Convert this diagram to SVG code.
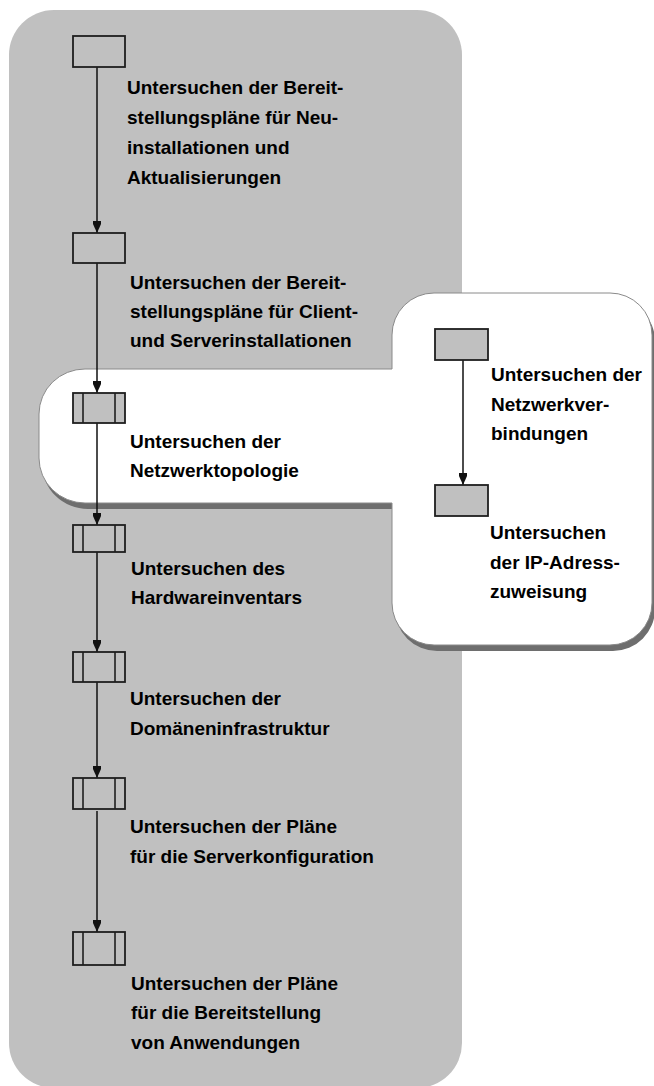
<svg xmlns="http://www.w3.org/2000/svg" width="654" height="1086" viewBox="0 0 654 1086">
<style>
.bg{fill:#c0c0c0}
.box{fill:#c0c0c0;stroke:#1e1e1e;stroke-width:1.8}
.bar{stroke:#1e1e1e;stroke-width:1.6}
.conn{stroke:#111;stroke-width:1.5;fill:none;marker-end:url(#arr)}
text{font-family:"Liberation Sans",Arial,sans-serif;font-weight:bold;font-size:19px;fill:#000}
</style>
<defs>
<marker id="arr" markerWidth="12" markerHeight="10" refX="12" refY="5" orient="auto" markerUnits="userSpaceOnUse" viewBox="0 0 12 10">
<path d="M0 1 H3 L12 5 L3 9 H0 Z" fill="#111"/>
</marker>
<path id="callout" d="M 85 369 L 392 369 L 392 335 A 42 42 0 0 1 434 293 L 610 293 A 42 42 0 0 1 652 335 L 652 603 A 42 42 0 0 1 610 645 L 434 645 A 42 42 0 0 1 392 603 L 392 503 L 85 503 A 46 45 0 0 1 39 458 L 39 414 A 46 45 0 0 1 85 369 Z"/>
</defs>
<rect class="bg" x="9" y="10" width="453" height="1078" rx="45" ry="45"/>
<use href="#callout" transform="translate(3,6)" fill="#6e6e6e"/>
<use href="#callout" fill="#ffffff" stroke="#8a8a8a" stroke-width="1"/>
<g id="connectors">
<line class="conn" x1="97" y1="67" x2="97" y2="233"/>
<line class="conn" x1="97" y1="263" x2="97" y2="393"/>
<line class="conn" x1="97" y1="423" x2="97" y2="525"/>
<line class="conn" x1="97" y1="552" x2="97" y2="652"/>
<line class="conn" x1="97" y1="682" x2="97" y2="778"/>
<line class="conn" x1="97" y1="811" x2="97" y2="932"/>
<line class="conn" x1="463" y1="360" x2="463" y2="485"/>
</g>
<g id="n1">
<rect class="box" x="73" y="36" width="52" height="31"/>
<text x="127" y="94">Untersuchen der Bereit-</text>
<text x="127" y="124">stellungspläne für Neu-</text>
<text x="127" y="154">installationen und</text>
<text x="127" y="184">Aktualisierungen</text>
</g>
<g id="n2">
<rect class="box" x="73" y="233" width="52" height="30"/>
<text x="130" y="289">Untersuchen der Bereit-</text>
<text x="130" y="318">stellungspläne für Client-</text>
<text x="130" y="347">und Serverinstallationen</text>
</g>
<g id="n3">
<rect class="box" x="73" y="393" width="52" height="30"/>
<line class="bar" x1="83" y1="393" x2="83" y2="423"/>
<line class="bar" x1="115" y1="393" x2="115" y2="423"/>
<text x="130" y="448">Untersuchen der</text>
<text x="130" y="477">Netzwerktopologie</text>
</g>
<g id="n4">
<rect class="box" x="73" y="525" width="52" height="27"/>
<line class="bar" x1="83" y1="525" x2="83" y2="552"/>
<line class="bar" x1="115" y1="525" x2="115" y2="552"/>
<text x="131" y="575">Untersuchen des</text>
<text x="131" y="604">Hardwareinventars</text>
</g>
<g id="n5">
<rect class="box" x="73" y="652" width="52" height="30"/>
<line class="bar" x1="83" y1="652" x2="83" y2="682"/>
<line class="bar" x1="115" y1="652" x2="115" y2="682"/>
<text x="130" y="705">Untersuchen der</text>
<text x="130" y="735">Domäneninfrastruktur</text>
</g>
<g id="n6">
<rect class="box" x="73" y="778" width="52" height="31"/>
<line class="bar" x1="83" y1="778" x2="83" y2="809"/>
<line class="bar" x1="115" y1="778" x2="115" y2="809"/>
<text x="130" y="833">Untersuchen der Pläne</text>
<text x="130" y="863">für die Serverkonfiguration</text>
</g>
<g id="n7">
<rect class="box" x="73" y="932" width="52" height="33"/>
<line class="bar" x1="83" y1="932" x2="83" y2="965"/>
<line class="bar" x1="115" y1="932" x2="115" y2="965"/>
<text x="131" y="990">Untersuchen der Pläne</text>
<text x="131" y="1019">für die Bereitstellung</text>
<text x="131" y="1049">von Anwendungen</text>
</g>
<g id="r1">
<rect class="box" x="435" y="329" width="53" height="31"/>
<text x="491" y="381">Untersuchen der</text>
<text x="491" y="411">Netzwerkver-</text>
<text x="491" y="440">bindungen</text>
</g>
<g id="r2">
<rect class="box" x="435" y="485" width="53" height="31"/>
<text x="490" y="539">Untersuchen</text>
<text x="490" y="569">der IP-Adress-</text>
<text x="490" y="598">zuweisung</text>
</g>
</svg>
